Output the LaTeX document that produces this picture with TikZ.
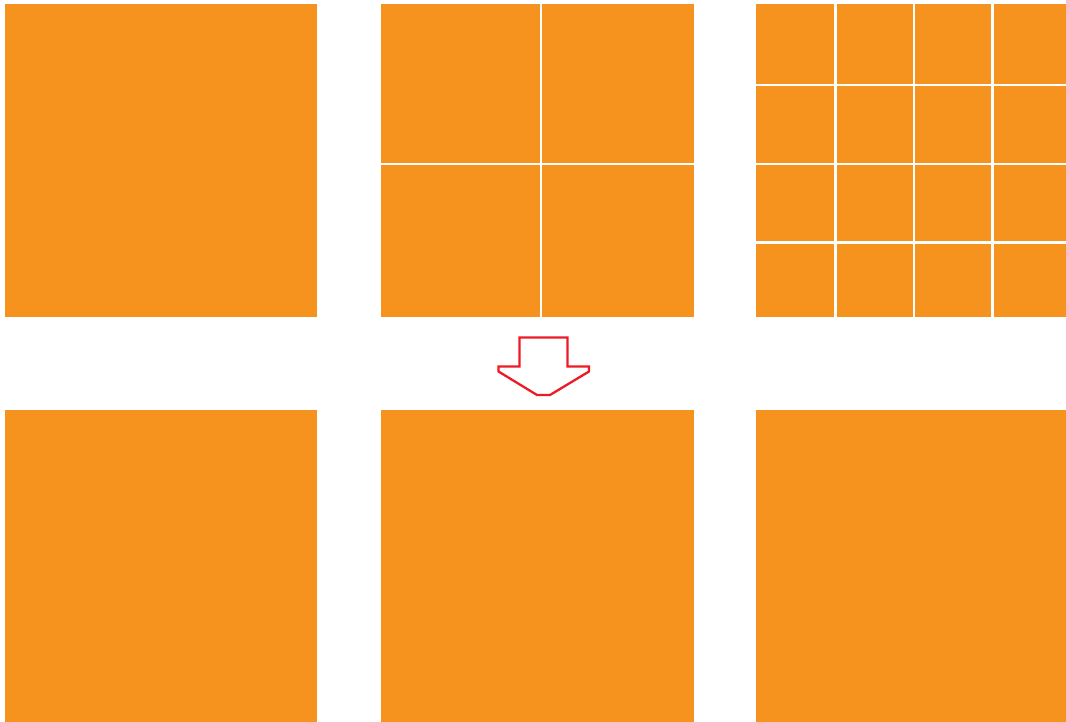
\documentclass[tikz,border=0pt]{standalone}
\definecolor{tileorange}{HTML}{F6931F}
\definecolor{arrowred}{HTML}{ED1C24}
\begin{document}
\begin{tikzpicture}[x=1pt,y=-1pt,
  tile/.style={fill=tileorange},
  gridline/.style={draw=white,line width=2.2pt},
  hollowarrow/.style={draw=arrowred,line width=2.3pt,fill=white,line join=miter}]
\useasboundingbox (0,0) rectangle (1066,722);
% top row
\fill[tile] (5,4) rectangle (317,317);
\fill[tile] (381,4) rectangle (694,317);
\fill[tile] (756,4) rectangle (1066,317);
% bottom row
\fill[tile] (5,410) rectangle (317,722);
\fill[tile] (381,410) rectangle (694,722);
\fill[tile] (756,410) rectangle (1066,722);
% middle grid 2x2
\draw[gridline] (541,4) -- (541,317);
\draw[gridline] (381,164) -- (694,164);
% right grid 4x4
\foreach \x in {835.5,914,992.5} \draw[gridline] (\x,4) -- (\x,317);
\foreach \y in {85,164,242.5} \draw[gridline] (756,\y) -- (1066,\y);
% hollow arrow
\draw[hollowarrow] (519.5,337.5) -- (567.5,337.5) -- (567.5,366.5) -- (589,366.5) -- (589,371.5)
  -- (550,395) -- (537,395) -- (498.5,371.5) -- (498.5,366.5) -- (519.5,366.5) -- cycle;
\end{tikzpicture}
\end{document}
